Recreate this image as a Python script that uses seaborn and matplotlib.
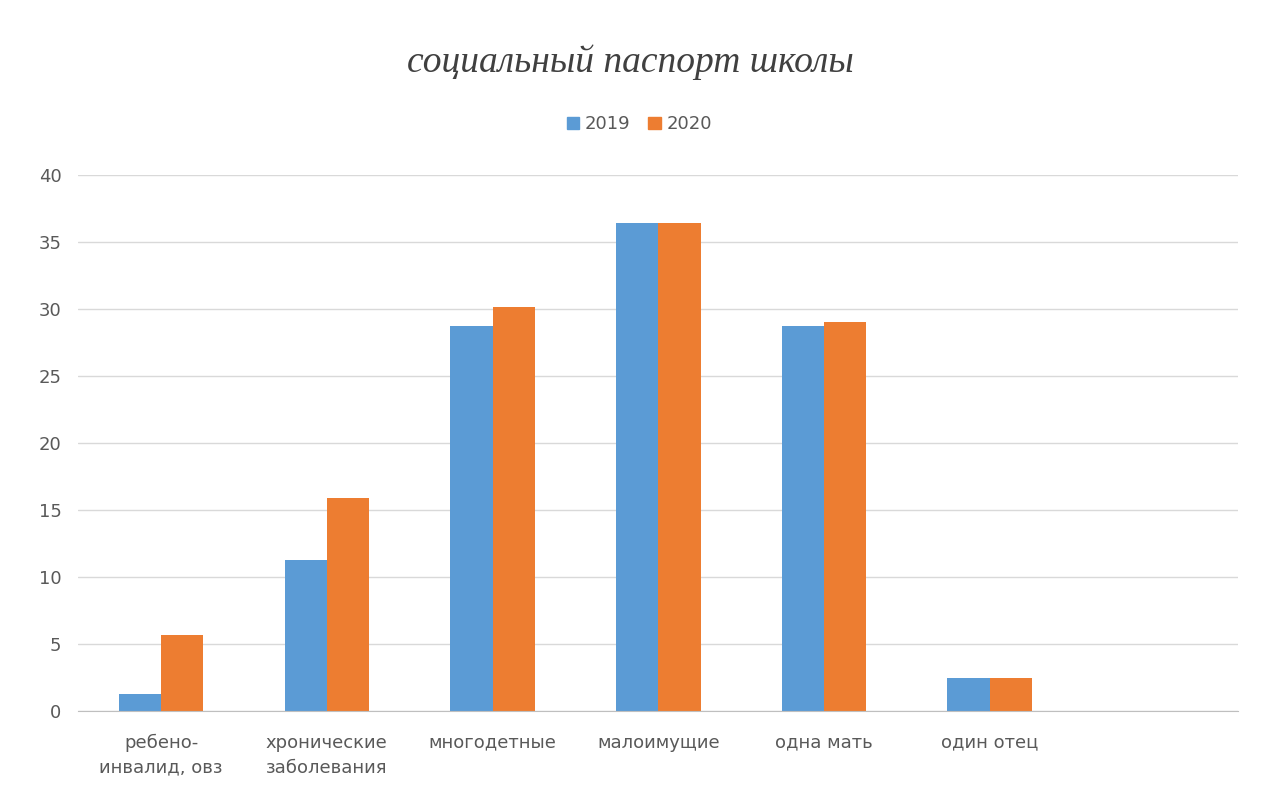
import numpy as np
import pandas as pd
import matplotlib
matplotlib.use("Agg")
import matplotlib.pyplot as plt
import seaborn as sns

# --------------------------------------------------------------------
# Data
# --------------------------------------------------------------------

categories = ["ребено-\nинвалид, овз", "хронические\nзаболевания", "многодетные",
              "малоимущие", "одна мать", "один отец", " "]
values_2019 = [1.3, 11.3, 28.7, 36.4, 28.7, 2.5, np.nan]
values_2020 = [5.7, 15.9, 30.1, 36.4, 29.0, 2.5, np.nan]
years = ["2019", "2020"]

df = pd.DataFrame({
    "category": categories * 2,
    "value": values_2019 + values_2020,
    "year": [years[0]] * len(categories) + [years[1]] * len(categories),
})

# --------------------------------------------------------------------
# Plot
# --------------------------------------------------------------------

sns.set_style("white")
plt.rcParams["font.family"] = ["DejaVu Sans"]

fig = plt.figure(figsize=(12.61, 8.01), dpi=100)
ax = fig.add_axes([0.062, 0.112, 0.920, 0.670])

palette = {"2019": "#5B9BD5", "2020": "#ED7D31"}
sns.barplot(data=df, x="category", y="value", hue="year", order=categories,
            palette=palette, width=0.51, ax=ax, legend=False, saturation=1,
            linewidth=0)

ax.set_ylim(0, 40)
ax.set_xlim(-0.5, len(categories) - 0.5)
ax.set_yticks(range(0, 41, 5))
ax.yaxis.grid(True, color="#d9d9d9", linewidth=1)
ax.set_axisbelow(True)
for side in ["top", "right", "left"]:
    ax.spines[side].set_visible(False)
ax.spines["bottom"].set_color("#bfbfbf")
ax.tick_params(axis="both", length=0, labelsize=13, labelcolor="#595959", pad=12)
ax.tick_params(axis="x", pad=16)
for lbl in ax.get_xticklabels():
    lbl.set_linespacing(1.5)
ax.set_xlabel("")
ax.set_ylabel("")

fig.text(0.5, 0.922, "социальный паспорт школы", ha="center", va="center",
         fontsize=27, style="italic", family="Liberation Serif", color="#404040")

handles = [plt.Rectangle((0, 0), 1, 1, color=palette[y]) for y in years]
fig.legend(handles, years, loc="center", bbox_to_anchor=(0.507, 0.845), ncol=2,
           frameon=False, fontsize=13, handlelength=0.7, handleheight=0.7,
           handletextpad=0.3, columnspacing=1.0, labelcolor="#595959")

fig.savefig("out.png", dpi=100)
